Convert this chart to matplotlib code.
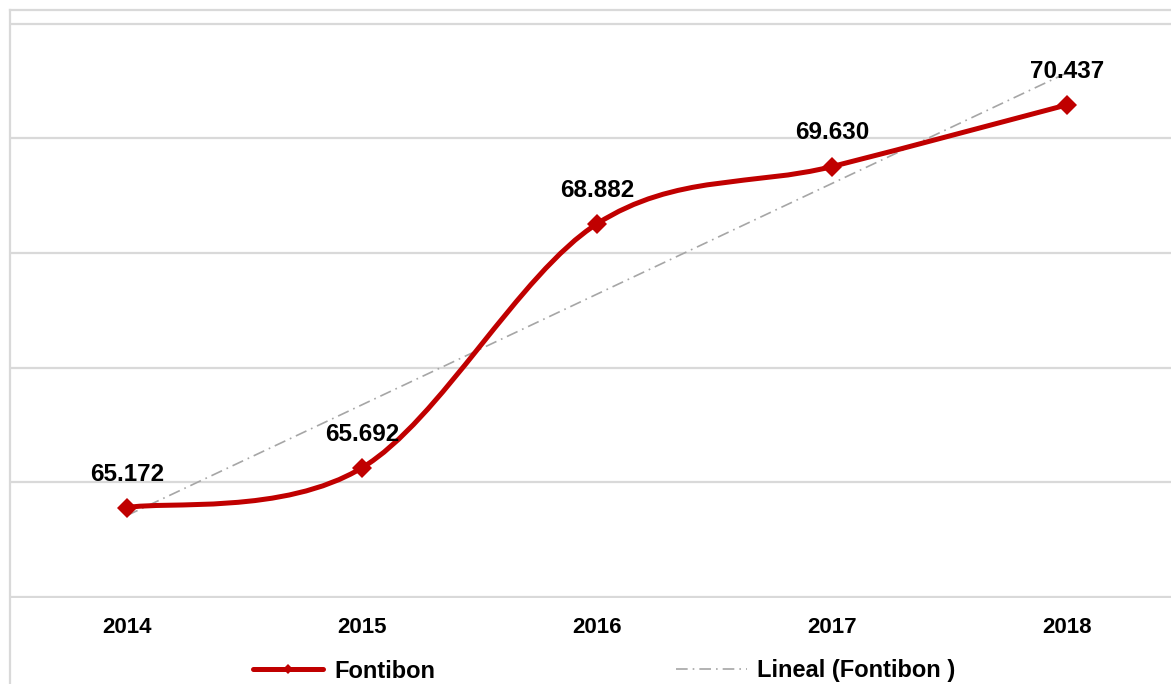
import numpy as np
import matplotlib.pyplot as plt
from matplotlib.path import Path
from matplotlib.patches import PathPatch
from matplotlib.lines import Line2D

plt.rcParams["font.family"] = ["Liberation Sans", "DejaVu Sans"]
plt.rcParams["font.weight"] = "bold"

# datos
years = ["2014", "2015", "2016", "2017", "2018"]
values = [65.172, 65.692, 68.882, 69.630, 70.437]
value_labels = ["65.172", "65.692", "68.882", "69.630", "70.437"]
grid_levels = [64.0, 65.5, 67.0, 68.5, 70.0, 71.5]

red = "#C00000"
gray_grid = "#D9D9D9"
gray_trend = "#A6A6A6"

W, H = 1171, 684
fig = plt.figure(figsize=(W / 100, H / 100), dpi=100)

# area de trazado (se sale un poco por la derecha, como en el original)
ax = fig.add_axes([9.5 / W, (H - 598) / H, 1175 / W, 576 / H])
x = np.arange(len(values))
y = np.array(values)

# linea suavizada tipo Excel (Bezier cubica)
pts = np.column_stack([x, y])
ext = np.vstack([pts[0], pts, pts[-1]])
verts = [tuple(pts[0])]
codes = [Path.MOVETO]
for i in range(len(pts) - 1):
    p_prev, p0, p1, p_next = ext[i], ext[i + 1], ext[i + 2], ext[i + 3]
    c1 = p0 + (p1 - p_prev) / 6
    c2 = p1 - (p_next - p0) / 6
    verts += [tuple(c1), tuple(c2), tuple(p1)]
    codes += [Path.CURVE4] * 3
curve = PathPatch(Path(verts, codes), facecolor="none", edgecolor=red,
                  linewidth=3.6, capstyle="round", zorder=3)
ax.add_patch(curve)
ax.plot(x, y, linestyle="none", marker="D", markersize=10.5,
        color=red, markeredgewidth=0, zorder=4)

# tendencia lineal
coef = np.polyfit(x, y, 1)
ax.plot(x, np.polyval(coef, x), color=gray_trend, linewidth=1.2,
        linestyle=(0, (7, 3, 1, 3)), zorder=2)

# etiquetas de datos
for xi, yi, lab in zip(x, y, value_labels):
    ax.annotate(lab, (xi, yi), xytext=(0, 19.5), textcoords="offset points",
                ha="center", va="baseline", fontsize=17.5, fontweight="bold")

ax.set_xlim(-0.5, 4.5)
ax.set_ylim(63.99, 71.52)
ax.set_yticks(grid_levels)
ax.set_yticklabels([])
ax.set_xticks(x)
ax.set_xticklabels(years, fontsize=16, fontweight="bold")
ax.tick_params(axis="both", length=0)
ax.tick_params(axis="x", pad=14)
ax.grid(axis="y", color=gray_grid, linewidth=1.6)
ax.set_axisbelow(True)
for s in ax.spines.values():
    s.set_visible(False)

# borde del grafico
fig.add_artist(Line2D([10 / W, 10 / W], [0, 1 - 10 / H], color=gray_grid,
                      linewidth=1.6, transform=fig.transFigure))
fig.add_artist(Line2D([10 / W, 1], [1 - 10 / H, 1 - 10 / H], color=gray_grid,
                      linewidth=1.6, transform=fig.transFigure))

# leyenda
handles = [
    Line2D([0], [0], color=red, linewidth=3.6, marker="D", markersize=5,
           markeredgewidth=0, solid_capstyle="round", label="Fontibon"),
    Line2D([0], [0], color=gray_trend, linewidth=1.2,
           linestyle=(0, (7, 3, 1, 3)), label="Lineal (Fontibon )"),
]
fig.legend(handles=handles, loc="center", bbox_to_anchor=(604 / W, 13 / H),
           ncol=2, frameon=False, fontsize=17, handlelength=3.0,
           handletextpad=0.45, columnspacing=10.2, numpoints=1)

fig.savefig("out.png", dpi=100)
